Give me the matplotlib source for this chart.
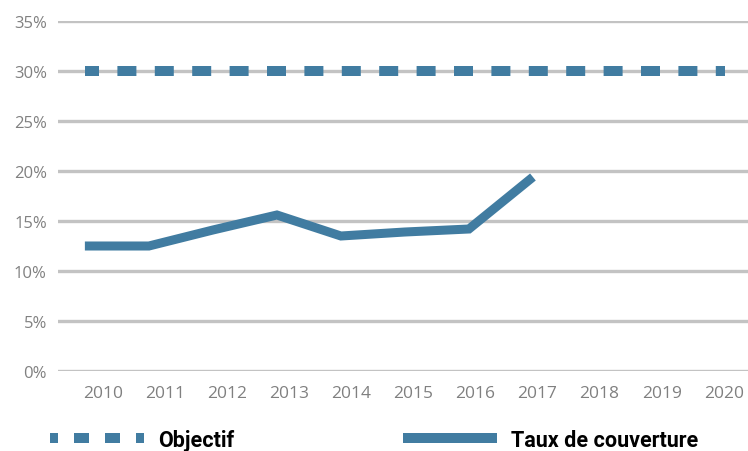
from matplotlib import pyplot as plt
from matplotlib.lines import Line2D
import numpy as np

# data
years = ['2010', '2011', '2012', '2013', '2014', '2015', '2016', '2017', '2018', '2019', '2020']
taux = [12.5, 12.5, 14.1, 15.6, 13.5, 13.9, 14.2, 19.4]
objectif = [30] * len(years)

blue = '#417ca1'
grey_txt = '#808080'

fig = plt.figure(figsize=(7.48, 4.52), dpi=100)
ax = fig.add_axes([58 / 748, 1 - 372 / 452, 690 / 748, 350 / 452])

x_all = np.arange(len(years))
ax.plot(x_all, objectif, color=blue, linewidth=7.2, solid_capstyle='butt',
        dash_capstyle='butt', linestyle=(0.5, (1.9, 1.84)))
ax.plot(x_all[:len(taux)], taux, color=blue, linewidth=6.5, solid_capstyle='butt',
        solid_joinstyle='miter')

ax.set_ylim(0, 35)
ax.set_xlim(-0.42, 10.36)
ax.set_yticks(np.arange(0, 36, 5))
ax.set_yticklabels([f'{v}%' for v in range(0, 36, 5)])
# labels sit a bit right of the data points in the original
ax.set_xticks(np.linspace(0.28, 9.98, len(years)))
ax.set_xticklabels(years)

ax.grid(axis='y', color='#c3c3c3', linewidth=2.4)
ax.set_axisbelow(True)
for s in ax.spines.values():
    s.set_visible(False)
ax.tick_params(axis='both', length=0, labelcolor=grey_txt)
ax.tick_params(axis='y', pad=8, labelsize=12)
ax.tick_params(axis='x', pad=10, labelsize=12.5)
for lab in ax.get_xticklabels() + ax.get_yticklabels():
    lab.set_family('Open Sans')

# legend
h_obj = Line2D([], [], color=blue, linewidth=7.2, dash_capstyle='butt',
               linestyle=(0.7, (1.5, 1.6)))
h_taux = Line2D([], [], color=blue, linewidth=7.2, solid_capstyle='butt')
leg = fig.legend([h_obj, h_taux], ['Objectif', 'Taux de couverture'],
                 loc='center left', bbox_to_anchor=(50 / 748 - 0.012, 1 - 441 / 452),
                 ncol=2, frameon=False, handlelength=4.4, handletextpad=0.65,
                 columnspacing=7.8, borderaxespad=0,
                 prop={'family': 'Roboto', 'weight': 'bold', 'size': 15.5})

fig.savefig('out.png', dpi=100)
